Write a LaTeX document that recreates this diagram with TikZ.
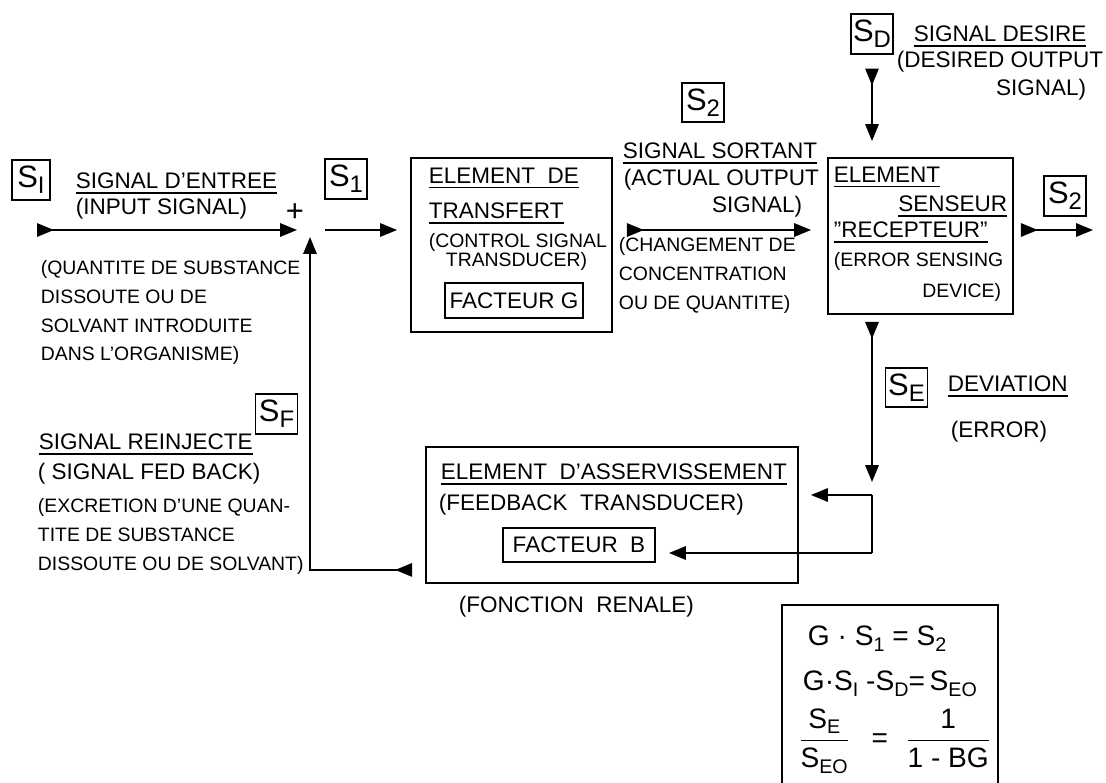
\documentclass[tikz,border=0pt]{standalone}
\usepackage{fontspec}
\setmainfont{Liberation Sans}
\usetikzlibrary{arrows.meta}
\newcommand\bigf{\fontsize{16}{19}\selectfont}
\newcommand\smallf{\fontsize{13.8}{20.3}\selectfont}
\newsavebox\ulbox
\newcommand\uln[1]{\sbox\ulbox{#1}\rlap{\rule[-3.5pt]{\wd\ulbox}{1.1pt}}\usebox\ulbox}
\newcommand\Ssub[2][17]{S\raisebox{-4pt}{\fontsize{#1}{#1}\selectfont #2}}
\begin{document}
\begin{tikzpicture}[x=0.025cm,y=-0.025cm,line width=1.3pt,
  lbl/.style={draw,line width=1.3pt,minimum width=1.05cm,minimum height=0.98cm,inner sep=1pt,font=\fontsize{22}{22}\selectfont},
  blk/.style={draw,line width=1.3pt,inner sep=0pt},
  txt/.style={inner sep=0pt,font=\bigf},
  sm/.style={inner sep=0pt,font=\smallf,align=left},
  fml/.style={inner sep=0pt,font=\fontsize{20}{24}\selectfont},
  dbl/.style={arrows={Triangle[reversed,length=12pt,width=9.5pt]-Triangle[length=12pt,width=9.5pt]}},
  one/.style={arrows={-Triangle[length=12pt,width=9.5pt]}}]
\useasboundingbox (0,0) rectangle (1106,783);
% junction points
\coordinate (sum) at (310,230);
\coordinate (in) at (37,230);
\coordinate (out) at (1093,230);
\coordinate (br) at (872,495);
\coordinate (dv) at (872,553);
% blocks
\node[blk,minimum width=5.025cm,minimum height=4.35cm] (tr) at (511.5,245) {};
\node[blk,minimum width=4.625cm,minimum height=3.9cm] (se) at (920.5,236) {};
\node[blk,minimum width=9.3cm,minimum height=3.4cm] (fb) at (612,515) {};
\node[blk,font=\bigf,minimum width=3.45cm,minimum height=0.875cm] (fg) at (514,300.5) {FACTEUR G};
\node[blk,font=\bigf,minimum width=3.8cm,minimum height=0.85cm] (fbb) at (579,545) {FACTEUR\ \ B};
\node[blk,minimum width=5.4cm,minimum height=4.875cm] (fm) at (890,702.5) {};
% signal labels
\node[lbl,minimum width=0.95cm] (si) at (31,180) {\Ssub{I}};
\node[lbl] (s1) at (346,179) {\Ssub{1}};
\node[lbl] (s2a) at (703,102.5) {\Ssub{2}};
\node[lbl] (sd) at (872,34) {\Ssub{D}};
\node[lbl] (s2b) at (1065,196) {\Ssub{2}};
\node[lbl] (sE) at (906.5,387.5) {\Ssub{E}};
\node[lbl] (sF) at (276.5,414) {\Ssub{F}};
\node[inner sep=0pt,font=\fontsize{22}{22}\selectfont] (plus) at (295,213) {+};
% input side
\node[txt,anchor=north west] (ti1) at (75,172) {\uln{SIGNAL D'ENTREE}};
\node[txt,anchor=north west] (ti2) at (75,197) {(INPUT SIGNAL)};
\node[sm,anchor=north west] (ti3) at (40,260) {(QUANTITE DE SUBSTANCE\\DISSOUTE OU DE\\SOLVANT INTRODUITE\\DANS L'ORGANISME)};
% transfer element
\node[txt,anchor=north west] (tr1) at (428,167) {\uln{ELEMENT\ \ DE}};
\node[txt,anchor=north west] (tr2) at (428,202) {\uln{TRANSFERT}};
\node[sm,anchor=north west] (tr3) at (428,233) {(CONTROL SIGNAL};
\node[sm,anchor=north west] (tr4) at (445,252) {TRANSDUCER)};
% output signal
\node[txt,anchor=north west] (so1) at (622,142) {\uln{SIGNAL SORTANT}};
\node[txt,anchor=north west] (so2) at (623,168) {(ACTUAL OUTPUT};
\node[txt,anchor=north east] (so3) at (803,195) {SIGNAL)};
\node[sm,anchor=north west] (so4) at (618,237) {(CHANGEMENT DE\\CONCENTRATION\\OU DE QUANTITE)};
% sensing element
\node[txt,anchor=north west] (se1) at (833,166) {\uln{ELEMENT}};
\node[txt,anchor=north east] (se2) at (1008,195) {\uln{SENSEUR}};
\node[txt,anchor=north west] (se3) at (833,221) {\uln{"RECEPTEUR"}};
\node[sm,anchor=north west] (se4) at (833,252) {(ERROR SENSING};
\node[sm,anchor=north east] (se5) at (1002,283) {DEVICE)};
% desired signal
\node[txt,anchor=north west] (sd1) at (913,25) {\uln{SIGNAL DESIRE}};
\node[txt,anchor=north west] (sd2) at (896,50) {(DESIRED OUTPUT};
\node[txt,anchor=north east] (sd3) at (1087,78) {SIGNAL)};
% error
\node[txt,anchor=north west] (dv1) at (947,375) {\uln{DEVIATION}};
\node[txt,anchor=north west] (dv2) at (950,420) {(ERROR)};
% feedback element
\node[txt,anchor=north west] (fb1) at (440,463) {\uln{ELEMENT\ \ D'ASSERVISSEMENT}};
\node[txt,anchor=north west] (fb2) at (438,493) {(FEEDBACK\ \ TRANSDUCER)};
\node[txt,anchor=north west] (fb3) at (458,595) {(FONCTION\ \ RENALE)};
\node[txt,anchor=north west] (sf1) at (38,433) {\uln{SIGNAL REINJECTE}};
\node[txt,anchor=north west] (sf2) at (37,462) {( SIGNAL FED BACK)};
\node[sm,anchor=north west] (sf3) at (37,498) {(EXCRETION D'UNE QUAN-\\TITE DE SUBSTANCE\\DISSOUTE OU DE SOLVANT)};
% formulas
\node[fml,anchor=north west] (eq1) at (807,625) {G · \Ssub[14]{1} = \Ssub[14]{2}};
\node[fml,anchor=north west] (eq2) at (802,670) {G·\Ssub[14]{I} -\Ssub[14]{D}=\,\Ssub[14]{EO}};
\node[fml,anchor=west] (eq3) at (798,741) {$\displaystyle\frac{\mbox{\Ssub[14]{E}}}{\mbox{\Ssub[14]{EO}}}$\hspace{0.55cm}=\hspace{0.45cm}$\displaystyle\frac{\mbox{1}}{\mbox{1 - BG}}$};
% connectors
\draw[dbl,shorten >=0.325cm] (in) -- (sum);
\draw[one,shorten <=0.375cm,shorten >=0.325cm] (sum) -- (tr.west |- sum);
\draw[dbl,shorten <=0.35cm,shorten >=0.4cm] (tr.east |- sum) -- (se.west |- sum);
\draw[dbl,shorten <=0.175cm] (se.east |- sum) -- (out);
\draw[dbl,shorten <=0.35cm,shorten >=0.4cm] (sd.south) -- (se.north -| sd.south);
\draw[dbl,shorten <=0.175cm,shorten >=0.325cm] (se.south -| br) -- (br);
\draw (br) -- (dv);
\draw[one,shorten >=0.3cm] (br) -- (fb.east |- br);
\draw[one,shorten >=0.325cm] (dv) -- (fbb.east |- dv);
\draw[dbl,shorten <=0.325cm,shorten >=0.175cm] ([yshift=0.35cm]fb.south west) -| (sum);
\end{tikzpicture}
\end{document}
